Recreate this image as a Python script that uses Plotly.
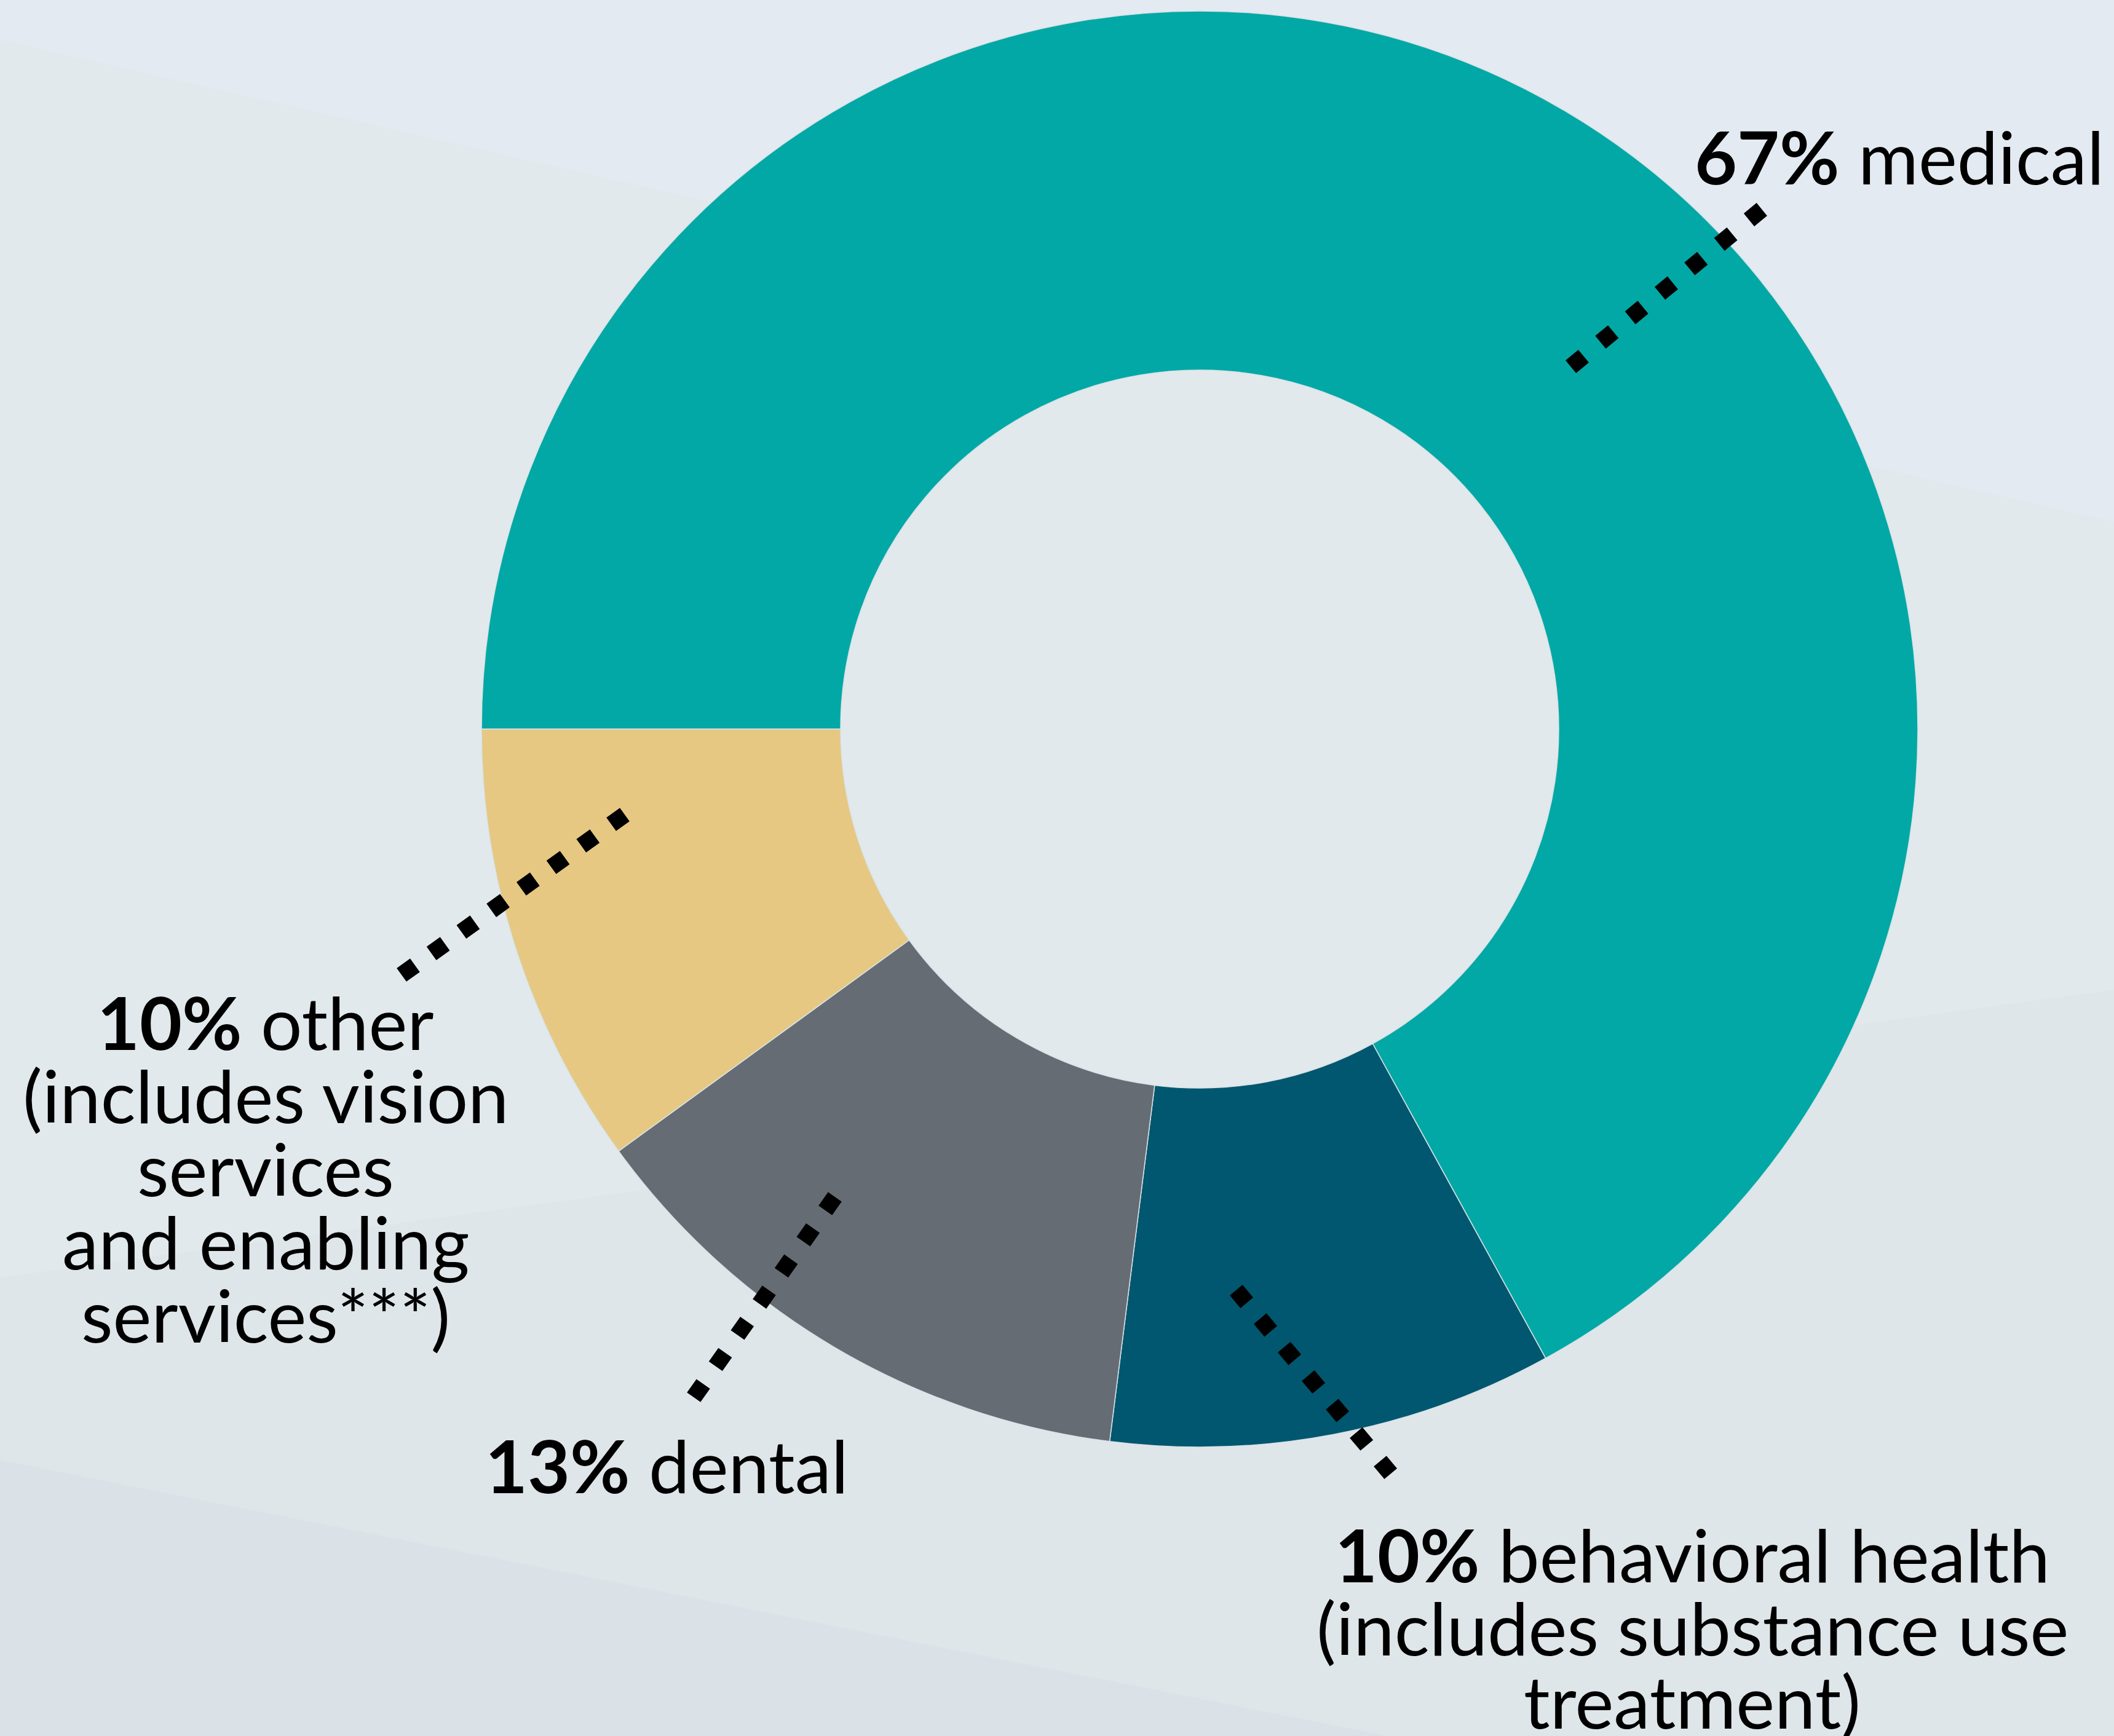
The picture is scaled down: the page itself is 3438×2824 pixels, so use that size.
import math
import plotly.graph_objects as go

W, H = 3438, 2824

# ---- data ----
categories = ["medical", "behavioral health", "dental", "other"]
values = [67, 10, 13, 10]
slice_colors = ["#02A8A5", "#01576F", "#656C73", "#E6C883"]

label_lines = {
    "medical": ["<b>67%</b> medical"],
    "behavioral health": ["<b>10%</b> behavioral health", "(includes substance use", "treatment)"],
    "dental": ["<b>13%</b> dental"],
    "other": ["<b>10%</b> other", "(includes vision", "services", "and enabling", "services***)"],
}

# ---- layout settings (pixels) ----
FS = 119
LINE_GAP = 119
label_pos = {  # centre x, first baseline y
    "medical": (3089, 300),
    "behavioral health": (2752, 2574),
    "dental": (1084, 2429),
    "other": (432, 1708),
}
leaders = {  # inner dot centre, outer dot centre, dot count
    "medical": ((2565, 588), (2855, 349), 7),
    "behavioral health": ((2019, 2109), (2253, 2387), 7),
    "dental": ((1350, 1958), (1136, 2262), 7),
    "other": ((1005, 1333), (664, 1578), 8),
}
CX, CY, R = 1951, 1186, 1168
DOT = 27


def px(x):
    return x / W


def py(y):
    return 1 - y / H


fig = go.Figure(
    go.Pie(
        labels=categories,
        values=values,
        hole=0.5,
        sort=False,
        direction="clockwise",
        rotation=-90,
        marker=dict(colors=slice_colors, line=dict(color="#D8E3E6", width=1.5)),
        textinfo="none",
        hoverinfo="label+percent",
        showlegend=False,
        domain=dict(x=[px(CX - R), px(CX + R)], y=[py(CY + R), py(CY - R)]),
    )
)

shapes = []
# background bands
bands = [
    ("#E3EAF1", [(0, 0), (W, 0), (W, 849), (0, 65)]),
    ("#DFE6EA", [(0, 2078), (W, 1610), (W, H), (0, H)]),
    ("#DAE2E8", [(0, 2375), (2256, H), (0, H)]),
]
for col, pts in bands:
    path = "M " + " L ".join(f"{px(x):.5f},{py(y):.5f}" for x, y in pts) + " Z"
    shapes.append(dict(type="path", xref="paper", yref="paper", path=path,
                       fillcolor=col, line=dict(width=0), layer="below"))

# dotted leader lines
for key, ((x0, y0), (x1, y1), n) in leaders.items():
    L = math.hypot(x1 - x0, y1 - y0)
    ux, uy = (x1 - x0) / L, (y1 - y0) / L
    pitch = L / (n - 1)
    sx, sy = x0 - ux * DOT / 2, y0 - uy * DOT / 2
    ex, ey = x1 + ux * DOT / 2, y1 + uy * DOT / 2
    shapes.append(dict(type="line", xref="paper", yref="paper",
                       x0=px(sx), y0=py(sy), x1=px(ex), y1=py(ey),
                       line=dict(color="#000000", width=DOT,
                                 dash=f"{DOT}px,{pitch - DOT:.1f}px"),
                       layer="above"))

annotations = []
for key, lines in label_lines.items():
    cx, by = label_pos[key]
    for i, t in enumerate(lines):
        base = by + i * LINE_GAP
        annotations.append(dict(
            text=t, x=px(cx), y=py(base - 0.39 * FS), xref="paper", yref="paper",
            xanchor="center", yanchor="middle", showarrow=False,
            font=dict(family="Lato", size=FS, color="#000000"),
        ))

fig.update_layout(
    width=W, height=H,
    margin=dict(l=0, r=0, t=0, b=0),
    paper_bgcolor="#E1E9EC",
    plot_bgcolor="#E1E9EC",
    shapes=shapes,
    annotations=annotations,
    showlegend=False,
)

fig.write_html(
    "out.html",
    config={"displayModeBar": False},
    post_script="document.body.style.margin='0';document.body.style.overflow='hidden';",
)
